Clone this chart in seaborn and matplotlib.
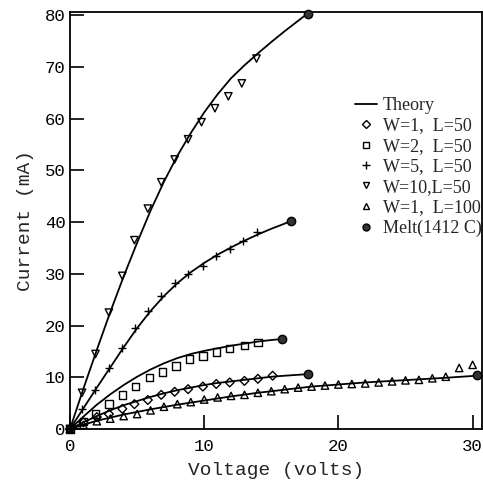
import matplotlib
matplotlib.use("Agg")
import matplotlib.pyplot as plt
import seaborn as sns
from matplotlib.lines import Line2D

# ---- data ----
w10_x = [0, 0.9, 1.9, 2.9, 3.9, 4.8, 5.8, 6.8, 7.8, 8.8, 9.8, 10.8, 11.8, 12.8, 13.9]
w10_y = [0, 7.0, 14.5, 22.5, 29.6, 36.5, 42.6, 47.7, 52.1, 56.0, 59.3, 62.0, 64.3, 66.8, 71.6]
w10_tx = [0, 1, 2, 3, 4, 5, 6, 7, 8, 9, 10, 11, 12, 13, 14, 15, 16, 17, 17.7]
w10_ty = [0, 7.8, 15.3, 22.6, 29.5, 36.0, 42.2, 47.8, 52.8, 57.2, 61.2, 64.7, 67.8, 70.3, 72.6, 74.8, 76.9, 78.9, 80.3]

w5_x = [0, 0.9, 1.9, 2.9, 3.9, 4.85, 5.8, 6.8, 7.8, 8.8, 9.9, 10.9, 11.9, 12.9, 13.9]
w5_y = [0, 3.8, 7.6, 11.8, 15.7, 19.6, 22.9, 25.8, 28.2, 30.0, 31.6, 33.5, 34.8, 36.4, 38.0]
w5_tx = [0, 1, 2, 3, 4, 5, 6, 7, 8, 9, 10, 11, 12, 13, 14, 15, 16, 16.5]
w5_ty = [0, 4.0, 8.0, 11.9, 15.8, 19.5, 22.8, 25.7, 28.2, 30.3, 32.1, 33.7, 35.1, 36.4, 37.6, 38.7, 39.7, 40.3]

w2_x = [0, 1.0, 1.9, 2.9, 3.9, 4.9, 5.9, 6.9, 7.9, 8.9, 9.9, 10.9, 11.9, 13.0, 14.0]
w2_y = [0, 1.5, 2.9, 4.8, 6.6, 8.2, 9.9, 11.0, 12.2, 13.5, 14.1, 14.9, 15.5, 16.1, 16.7]
w2_tx = [0, 1, 2, 3, 4, 5, 6, 7, 8, 9, 10, 11, 12, 13, 14, 15, 15.8]
w2_ty = [0, 2.4, 4.7, 6.7, 8.5, 10.1, 11.5, 12.7, 13.7, 14.5, 15.1, 15.6, 16.1, 16.5, 16.9, 17.2, 17.4]

w1_x = [0, 1.0, 2.0, 2.9, 3.9, 4.8, 5.8, 6.8, 7.8, 8.8, 9.9, 10.9, 11.9, 13.0, 14.0, 15.1]
w1_y = [0, 1.3, 2.3, 2.9, 3.9, 4.8, 5.6, 6.6, 7.2, 7.7, 8.2, 8.7, 9.0, 9.3, 9.7, 10.3]
w1_tx = [0, 1, 2, 3, 4, 5, 6, 7, 8, 9, 10, 11, 12, 13, 14, 15, 16, 17.7]
w1_ty = [0, 1.3, 2.5, 3.6, 4.6, 5.4, 6.2, 6.9, 7.5, 8.0, 8.5, 8.9, 9.2, 9.5, 9.8, 10.1, 10.3, 10.6]

l100_x = [0, 1, 2, 3, 4, 5, 6, 7, 8, 9, 10, 11, 12, 13, 14, 15, 16, 17, 18, 19, 20,
          21, 22, 23, 24, 25, 26, 27, 28, 29, 30]
l100_y = [0, 0.8, 1.5, 2.0, 2.5, 2.9, 3.6, 4.3, 4.8, 5.2, 5.7, 6.1, 6.4, 6.6, 7.0, 7.3,
          7.7, 8.0, 8.2, 8.4, 8.6, 8.7, 8.8, 9.0, 9.2, 9.4, 9.5, 9.8, 10.1, 11.8, 12.4]
l100_tx = [0, 2, 4, 6, 8, 10, 12, 14, 16, 18, 20, 22, 24, 26, 28, 30.3]
l100_ty = [0, 1.6, 2.8, 3.8, 4.7, 5.5, 6.3, 7.0, 7.6, 8.2, 8.6, 9.0, 9.3, 9.6, 9.9, 10.3]

melt_x = [17.7, 16.5, 15.8, 17.7, 30.3]
melt_y = [80.3, 40.3, 17.4, 10.6, 10.4]

labels = ["Theory", "W=1,  L=50", "W=2,  L=50", "W=5,  L=50", "W=10,L=50",
          "W=1,  L=100", "Melt(1412 C)"]
x_ticks = [0, 10, 20, 30]
y_ticks = [0, 10, 20, 30, 40, 50, 60, 70, 80]

# ---- figure ----
sns.set_style("ticks")
plt.rcParams["font.family"] = ["Liberation Mono", "DejaVu Sans Mono"]

fig = plt.figure(figsize=(4.83, 4.83), dpi=100)
ax = fig.add_axes([70 / 483, 1 - 429 / 483, 412 / 483, 417 / 483])

for tx, ty in [(w10_tx, w10_ty), (w5_tx, w5_ty), (w2_tx, w2_ty),
               (w1_tx, w1_ty), (l100_tx, l100_ty)]:
    sns.lineplot(x=tx, y=ty, ax=ax, color="black", lw=1.3, sort=False,
                 estimator=None, clip_on=False)

ms = 28
common = dict(ax=ax, facecolor="none", edgecolor="black", linewidth=1.0,
              s=ms, clip_on=False, zorder=3)
sns.scatterplot(x=w1_x, y=w1_y, marker="D", **{**common, "s": 20})
sns.scatterplot(x=w2_x, y=w2_y, marker="s", **common)
sns.scatterplot(x=w5_x, y=w5_y, marker="+", ax=ax, color="black", linewidth=1.0,
                s=36, clip_on=False, zorder=3)
sns.scatterplot(x=w10_x, y=w10_y, marker="v", **common)
sns.scatterplot(x=l100_x, y=l100_y, marker="^", **common)
sns.scatterplot(x=melt_x, y=melt_y, marker="o", ax=ax, color="#333333",
                edgecolor="black", linewidth=1.0, s=36, clip_on=False, zorder=4)

ax.set_xlim(0, 30.7)
ax.set_ylim(0, 80.6)
ax.set_xticks(x_ticks)
ax.set_yticks(y_ticks)
for s in ax.spines.values():
    s.set_linewidth(1.3)
    s.set_color("black")
ax.tick_params(direction="in", length=10, width=1.2, labelsize=12.5, colors="black")
ax.tick_params(axis="y", pad=3)
ax.tick_params(axis="x", pad=7)
ax.set_xlabel("Voltage (volts)", fontsize=14, labelpad=6)
ax.set_ylabel("Current (mA)", fontsize=14, labelpad=8)

handles = [
    Line2D([], [], color="black", lw=1.3),
    Line2D([], [], marker="D", ls="none", mfc="none", mec="black", ms=4.5),
    Line2D([], [], marker="s", ls="none", mfc="none", mec="black", ms=4.5),
    Line2D([], [], marker="+", ls="none", color="black", ms=6),
    Line2D([], [], marker="v", ls="none", mfc="none", mec="black", ms=5),
    Line2D([], [], marker="^", ls="none", mfc="none", mec="black", ms=5),
    Line2D([], [], marker="o", ls="none", mfc="#333333", mec="black", ms=5),
]
fig.legend(handles, labels, loc="upper left", bbox_to_anchor=(355 / 483, 1 - 97 / 483),
           frameon=False, prop={"family": "Liberation Serif", "size": 13},
           labelspacing=0.19, handlelength=1.2, handletextpad=0.35,
           borderaxespad=0, borderpad=0)

fig.savefig("out.png", dpi=100)
